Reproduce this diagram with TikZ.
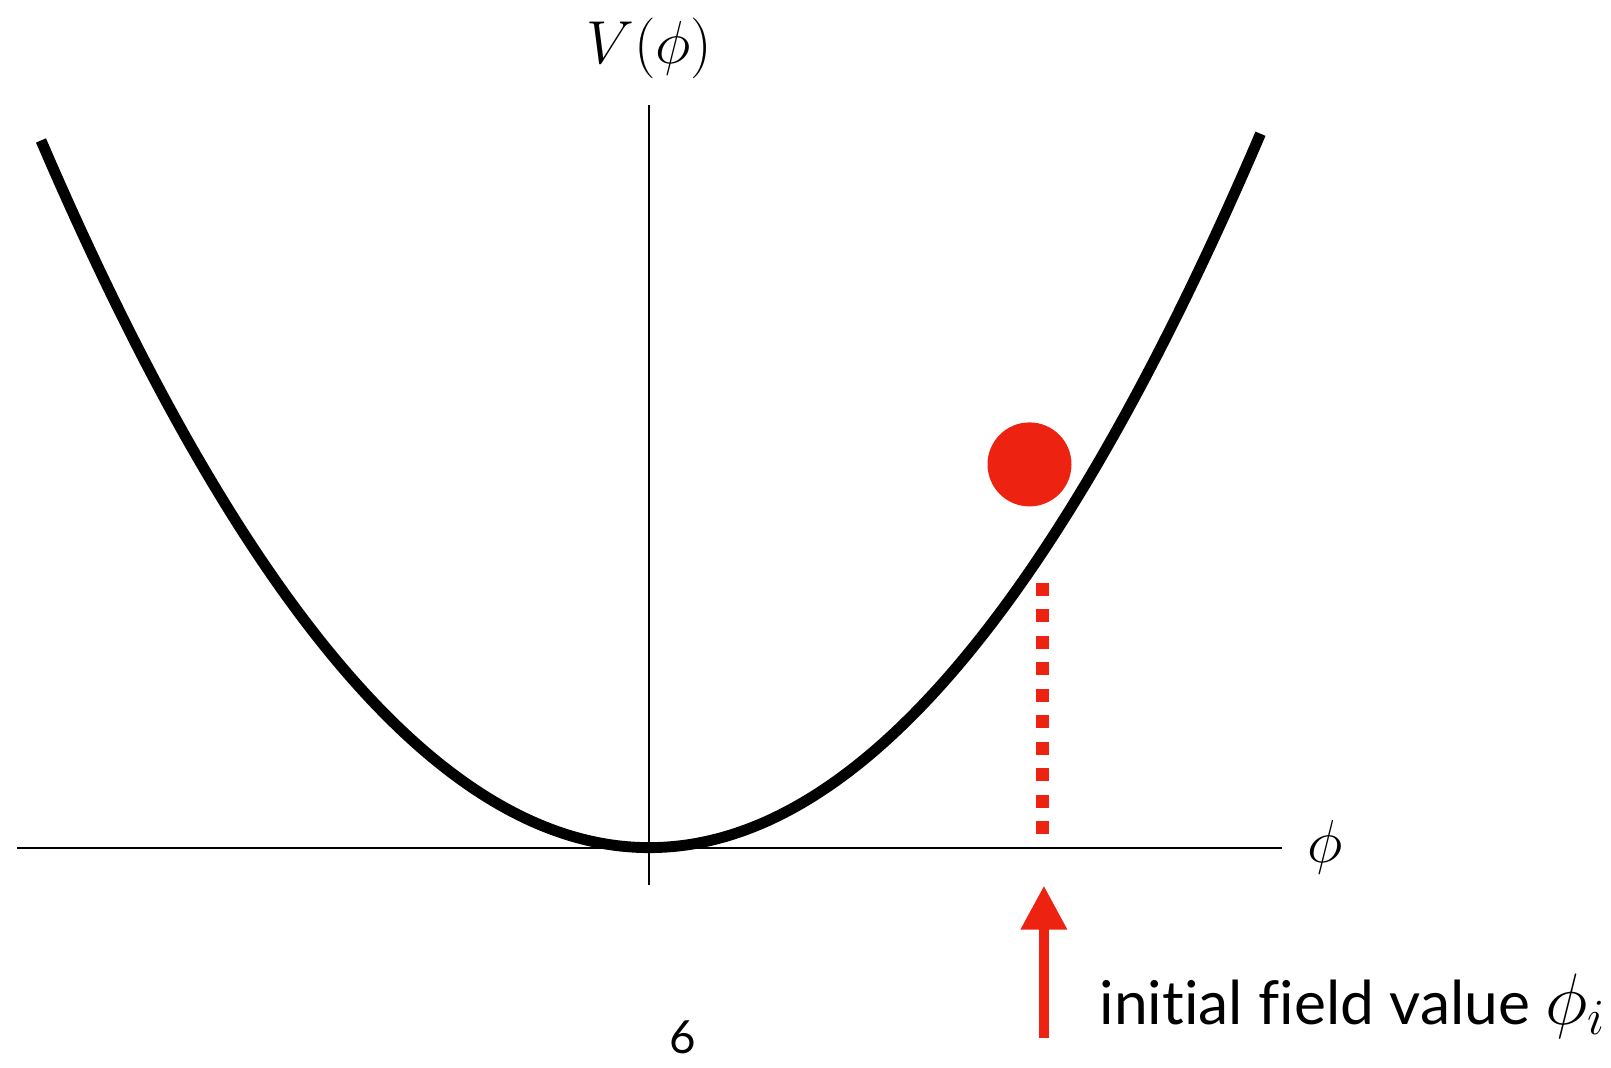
\documentclass[tikz,border=0pt]{standalone}
\usepackage{fontspec}
\newfontfamily\labelfont[Ligatures=NoCommon]{Lato}
\usetikzlibrary{arrows.meta}
\definecolor{ballred}{RGB}{238,34,17}

\begin{document}
\begin{tikzpicture}[x=1cm,y=1cm,
  axisline/.style={line width=0.6pt},
  potential/.style={line width=3.1pt},
  redmark/.style={ballred}]
\useasboundingbox (-6.493,-2.194) rectangle (9.617,8.476);
\coordinate (O) at (0,0);
\coordinate (xl) at (-6.318,0);
\coordinate (xr) at (6.327,0);
\coordinate (yb) at (0,-0.37);
\coordinate (yt) at (0,7.428);
\draw[axisline] (xl) -- (xr);
\draw[axisline] (yb) -- (yt);
\draw[potential] plot[domain=-6.083:6.113,samples=120,smooth] (\x,{0.1911*\x*\x});
\node[font=\fontsize{18}{22}\selectfont,anchor=base,inner sep=0] (vlab) at (0,7.84){$V(\phi)$};
\node[font=\fontsize{18}{22}\selectfont,anchor=base west,inner sep=0] (philab) at (6.57,-0.15){$\phi$};
\node[circle,fill=ballred,inner sep=0,minimum size=0.84cm] (ball) at (3.802,3.832){};
\coordinate (dtop) at (3.935,2.651);
\coordinate (dbot) at (3.935,0.136);
\draw[redmark,line width=0.13cm,dash pattern=on 0.13cm off 0.135cm] (dtop) -- (dbot);
\coordinate (atip) at (3.946,-0.38);
\coordinate (abot) at (3.946,-1.901);
\draw[redmark,line width=0.1cm,-{Triangle[length=0.44cm,width=0.44cm]}] (abot) -- (atip);
\node[font=\labelfont\fontsize{17.2}{21}\selectfont,anchor=base west,inner sep=0] (init) at (4.497,-1.764){initial field value {\fontsize{20.5}{24}\selectfont$\phi_i$}};
\node[font=\labelfont\fontsize{13}{15}\selectfont,anchor=base,inner sep=0] (pagenum) at (0.33,-2.06){6};
\end{tikzpicture}
\end{document}
